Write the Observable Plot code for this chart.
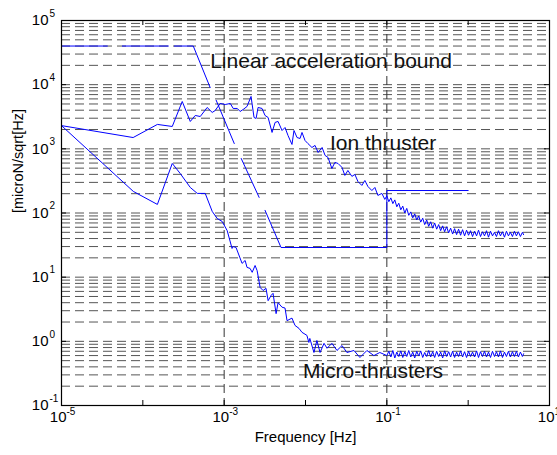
<!DOCTYPE html>
<html>
<head>
<meta charset="utf-8">
<script src="https://cdn.jsdelivr.net/npm/d3@7"></script>
<script src="https://cdn.jsdelivr.net/npm/@observablehq/plot@0.6"></script>
<style>
  html, body { margin: 0; padding: 0; background: #fff; }
</style>
</head>
<body>
<div id="chart"></div>
<script>
// ---- Data ----
const xTickExps = [-5, -3, -1, 1];
const xDecadeExps = [-5, -4, -3, -2, -1, 0, 1];
const yTickExps = [-1, 0, 1, 2, 3, 4, 5];
const gridMantissas = [1, 2, 3, 4, 5, 6, 7, 8, 9];
const xGridValues = [1e-3, 1e-1];

const boundFreq  = [1e-5, 3.66e-5, null, 5.6e-5, 2.06e-4, null, 2.44e-4, 4.17e-4, 6.73e-4, null, 7.98e-4, 1.33e-3, null, 1.62e-3, 2.69e-3, null, 3.18e-3, 5.0e-3, 0.1, 0.1, 1];
const boundValue = [4e4, 4e4, null, 4e4, 4e4, null, 4e4, 4e4, 9.0e3, null, 5.7e3, 1.21e3, null, 708, 175, null, 110, 29, 29, 224, 224];

// Ion thruster, low-frequency part (below 0.1 Hz)
const ionHeadFreq = [1e-5, 7.6e-5, 1.51e-4, 2.30e-4, 3.05e-4, 3.83e-4, 4.41e-4, 5.08e-4, 6.18e-4, 7.13e-4,
  7.76e-4, 8.93e-4, 1.03e-3, 1.19e-3, 1.29e-3, 1.45e-3, 1.57e-3, 1.71e-3, 1.91e-3, 2.14e-3,
  2.33e-3, 2.47e-3, 2.61e-3, 2.92e-3, 3.18e-3, 3.47e-3, 3.88e-3, 4.23e-3, 4.60e-3, 5.15e-3,
  5.60e-3, 6.10e-3, 6.82e-3, 7.22e-3, 7.87e-3, 8.57e-3, 9.06e-3, 9.86e-3, 1.07e-2, 1.20e-2,
  1.31e-2, 1.43e-2, 1.60e-2, 1.74e-2, 1.89e-2, 2.11e-2, 2.30e-2, 2.51e-2, 2.81e-2, 3.05e-2,
  3.32e-2, 3.72e-2, 4.05e-2, 4.41e-2, 4.93e-2, 5.37e-2, 5.85e-2, 6.55e-2, 7.13e-2, 7.76e-2,
  8.69e-2, 9.44e-2];
const ionHeadValue = [2300, 1500, 2400, 2230, 5470, 2670, 3310, 3190, 4410, 3690,
  3960, 5090, 4910, 5090, 4260, 4260, 3820, 4100, 4570, 6550,
  3080, 2970, 4410, 4260, 3310, 3080, 1800, 2580, 2670, 1930,
  2150, 1610, 1170, 1930, 1500, 1450, 1800, 1350, 1210, 1050,
  1130, 877, 1050, 789, 735, 494, 614, 592, 513, 385,
  460, 372, 399, 310, 269, 321, 259, 224, 250, 188,
  202, 163];

// Micro-thrusters, low-frequency part (below 0.1 Hz)
const microHeadFreq = [1e-5, 7.64e-5, 1.51e-4, 2.30e-4, 2.88e-4, 3.83e-4, 4.67e-4, 5.85e-4, 7.13e-4, 8.20e-4,
  9.44e-4, 1.09e-3, 1.25e-3, 1.29e-3, 1.40e-3, 1.66e-3, 1.81e-3, 1.91e-3, 2.08e-3, 2.21e-3,
  2.40e-3, 2.54e-3, 2.77e-3, 3.01e-3, 3.27e-3, 3.47e-3, 3.78e-3, 3.99e-3, 4.35e-3, 4.60e-3,
  5.15e-3, 5.60e-3, 5.93e-3, 6.82e-3, 7.43e-3, 8.32e-3, 9.06e-3, 1.04e-2, 1.10e-2, 1.13e-2,
  1.27e-2, 1.38e-2, 1.51e-2, 1.69e-2, 1.84e-2, 2.11e-2, 2.44e-2, 2.81e-2, 3.23e-2, 3.94e-2,
  4.67e-2, 5.69e-2, 6.93e-2, 8.20e-2];
const microHeadValue = [2300, 217, 136, 592, 413, 250, 202, 202, 106, 82,
  74, 53, 28, 30, 29, 16.4, 18.2, 14.2, 13.7, 11.9,
  15.2, 12.7, 6.9, 6.2, 6.7, 4.3, 5.2, 5.6, 2.7, 4.0,
  3.4, 3.3, 2.1, 2.3, 1.77, 1.59, 1.38, 1.24, 0.96, 1.11,
  0.67, 1.03, 0.67, 0.93, 0.78, 0.93, 0.72, 0.86, 0.67, 0.72,
  0.56, 0.72, 0.60, 0.67];

// High-frequency sample frequencies (0.1 Hz to 4.8 Hz), shared by both spectra
const tailFreq = [0.1, 0.1058, 0.112, 0.1185, 0.1253, 0.1326, 0.1403, 0.1484, 0.157, 0.1661,
  0.1758, 0.186, 0.1968, 0.2082, 0.2203, 0.2331, 0.2466, 0.2609, 0.2761, 0.2921,
  0.3091, 0.327, 0.346, 0.3661, 0.3874, 0.4099, 0.4337, 0.4589, 0.4855, 0.5137,
  0.5435, 0.5751, 0.6085, 0.6438, 0.6812, 0.7208, 0.7626, 0.8069, 0.8538, 0.9034,
  0.9558, 1.011, 1.07, 1.132, 1.198, 1.268, 1.341, 1.419, 1.501, 1.589,
  1.681, 1.778, 1.882, 1.991, 2.107, 2.229, 2.358, 2.495, 2.64, 2.794,
  2.956, 3.128, 3.309, 3.501, 3.705, 3.92, 4.148, 4.389, 4.644, 4.8];
const ionTailValue = [185, 150, 172, 140, 160, 125, 142, 112, 128, 100,
  118, 92, 104, 84, 97, 78, 90, 72, 83, 66,
  78, 62, 73, 58, 70, 56, 66, 53, 63, 51,
  61, 49, 58, 47, 57, 46, 56, 45, 55, 44,
  54, 45, 53, 43, 52, 44, 54, 43, 51, 44,
  53, 42, 52, 44, 50, 43, 53, 44, 51, 42,
  52, 44, 50, 43, 52, 44, 51, 43, 50, 46];
const microTailValue = [0.60, 0.70, 0.57, 0.72, 0.55, 0.68, 0.58, 0.71, 0.56, 0.69,
  0.58, 0.72, 0.57, 0.68, 0.55, 0.70, 0.59, 0.71, 0.56, 0.67,
  0.58, 0.72, 0.57, 0.69, 0.56, 0.70, 0.58, 0.68, 0.55, 0.71,
  0.58, 0.69, 0.57, 0.70, 0.56, 0.68, 0.58, 0.71, 0.57, 0.69,
  0.56, 0.70, 0.58, 0.68, 0.57, 0.71, 0.56, 0.69, 0.58, 0.70,
  0.57, 0.68, 0.56, 0.70, 0.58, 0.69, 0.57, 0.71, 0.56, 0.68,
  0.58, 0.70, 0.57, 0.69, 0.58, 0.70, 0.57, 0.68, 0.58, 0.64];

const annotations = [
  {label: "Linear acceleration bound", f: 6.73e-4, v: 2.35e4},
  {label: "Ion thruster", f: 2.0e-2, v: 1200},
  {label: "Micro-thrusters", f: 9.3e-3, v: 0.337}
];
const xTitle = "Frequency [Hz]";
const yTitle = "[microN/sqrt[Hz]";

// ---- Derived tables ----
const gridY = yTickExps.slice(0, -1).flatMap(e => gridMantissas.map(m => m * 10 ** e));
const bound = boundFreq.map((f, i) => ({f, v: boundValue[i]}));
const ionAllValue = ionHeadValue.concat(ionTailValue);
const microAllValue = microHeadValue.concat(microTailValue);
const ion = ionHeadFreq.concat(tailFreq).map((f, i) => ({f, v: ionAllValue[i]}));
const micro = microHeadFreq.concat(tailFreq).map((f, i) => ({f, v: microAllValue[i]}));
const blue = "#0000ff";
const font = "'Liberation Sans', Arial, Helvetica, sans-serif";

const chart = Plot.plot({
  width: 557,
  height: 455,
  marginLeft: 61,
  marginRight: 8,
  marginTop: 20,
  marginBottom: 50,
  style: {fontFamily: font, background: "#fff", color: "#000", overflow: "visible"},
  x: {type: "log", domain: [1e-5, 10], axis: null},
  y: {type: "log", domain: [0.1, 1e5], axis: null},
  marks: [
    Plot.ruleY(gridY, {y: d => d, stroke: "#555", strokeWidth: 1, strokeDasharray: "9,5"}),
    Plot.ruleX(xGridValues, {x: d => d, stroke: "#333", strokeWidth: 1, strokeDasharray: "9,5"}),
    Plot.ruleX(xDecadeExps, {x: e => 10 ** e, insetTop: 380, stroke: "#000"}),
    Plot.ruleX(xDecadeExps, {x: e => 10 ** e, insetBottom: 380, stroke: "#000"}),
    Plot.ruleY(yTickExps, {y: e => 10 ** e, insetRight: 483, stroke: "#000"}),
    Plot.ruleY(yTickExps, {y: e => 10 ** e, insetLeft: 483, stroke: "#000"}),
    Plot.line(bound, {x: "f", y: "v", stroke: blue, strokeWidth: 1}),
    Plot.line(ion, {x: "f", y: "v", stroke: blue, strokeWidth: 1}),
    Plot.line(micro, {x: "f", y: "v", stroke: blue, strokeWidth: 1}),
    Plot.frame({stroke: "#000", strokeWidth: 1.2}),
    // x tick labels
    Plot.text(xTickExps, {x: e => 10 ** e, text: () => "10", frameAnchor: "bottom", dy: 16, dx: 5, textAnchor: "end", fontSize: 15, fill: "#000"}),
    Plot.text(xTickExps, {x: e => 10 ** e, text: e => String(e), frameAnchor: "bottom", dy: 9, dx: 5, textAnchor: "start", fontSize: 10, fill: "#000"}),
    // y tick labels
    Plot.text(yTickExps, {y: e => 10 ** e, text: () => "10", frameAnchor: "left", dx: -13, textAnchor: "end", fontSize: 15, fill: "#000"}),
    Plot.text(yTickExps, {y: e => 10 ** e, text: e => String(e), frameAnchor: "left", dx: -12, dy: -7, textAnchor: "start", fontSize: 10, fill: "#000"}),
    // axis titles
    Plot.text([xTitle], {text: d => d, frameAnchor: "bottom", dy: 36, fontSize: 15, fill: "#000"}),
    Plot.text([yTitle], {text: d => d, frameAnchor: "left", dx: -43, rotate: -90, fontSize: 14.5, fill: "#000"}),
    // annotations
    Plot.text(annotations, {x: "f", y: "v", text: "label", textAnchor: "start", fontSize: 21, fill: "#111"})
  ]
});
document.getElementById("chart").appendChild(chart);
</script>
</body>
</html>
